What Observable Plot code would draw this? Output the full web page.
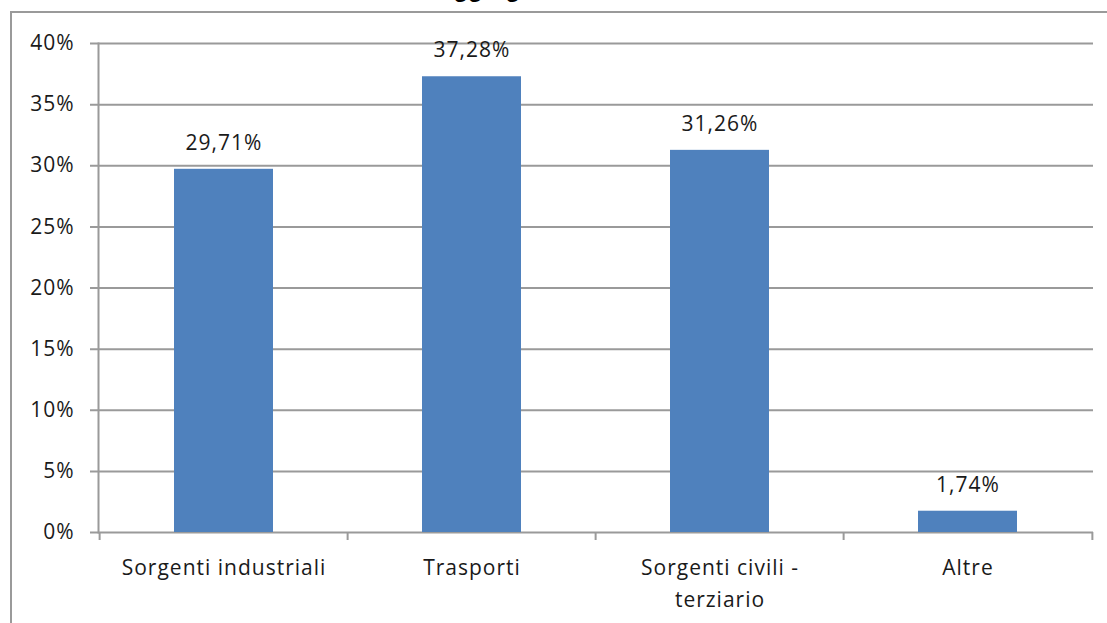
<!DOCTYPE html>
<html>
<head>
<meta charset="utf-8">
<script src="https://cdn.jsdelivr.net/npm/d3@7"></script>
<script src="https://cdn.jsdelivr.net/npm/@observablehq/plot@0.6"></script>
<style>
  html, body { margin: 0; padding: 0; background: #fff; }
  #wrap { position: relative; width: 1107px; height: 623px; overflow: hidden; background: #fff; }
  #title {
    position: absolute; top: -23px; left: 320px;
    font: bold 24px "Liberation Sans", Arial, sans-serif; line-height: 24px;
    color: #000; white-space: nowrap;
  }
  #box {
    position: absolute; left: 10px; top: 11px; right: -10px; bottom: -10px;
    border-top: 2px solid #9a9a9a; border-left: 2px solid #9a9a9a;
  }
  #chart { position: absolute; left: 0; top: 0; }
  #chart svg text { letter-spacing: 1px; }
</style>
</head>
<body>
<div id="wrap">
  <div id="title">Emissioni aggregate</div>
  <div id="box"></div>
  <div id="chart"></div>
</div>
<script>
// Share of emissions by source group (%)
const categories = ["Sorgenti industriali", "Trasporti", "Sorgenti civili - terziario", "Altre"];
const shares = [29.71, 37.28, 31.26, 1.74];
const yTicks = [0, 5, 10, 15, 20, 25, 30, 35, 40];
const categoryLabels = ["Sorgenti industriali", "Trasporti", "Sorgenti civili -\nterziario", "Altre"];

const data = categories.map((c, i) => ({category: c, share: shares[i]}));
const labelOf = new Map(categories.map((c, i) => [c, categoryLabels[i]]));
const fmt = v => v.toFixed(2).replace(".", ",") + "%";

const W = 1107, H = 623;
const mL = 98, mR = 14, mT = 43, mB = 91;
const step = (W - mL - mR) / categories.length;
const grid = "#9a9a9a";
const font = "'Open Sans', Lato, sans-serif";
const fs = 21;

const chart = Plot.plot({
  width: W,
  height: H,
  marginLeft: mL,
  marginRight: mR,
  marginTop: mT,
  marginBottom: mB,
  style: {fontFamily: font, fontSize: fs + "px", color: "#1a1a1a", background: "transparent"},
  x: {domain: categories, paddingInner: 0.6, paddingOuter: 0.3, label: null},
  y: {domain: [0, 40], label: null},
  marks: [
    // horizontal gridlines, extended left to form the tick marks
    Plot.ruleY(yTicks, {stroke: grid, strokeWidth: 2, insetLeft: -8}),
    // vertical axis line
    Plot.frame({anchor: "left", stroke: grid, strokeWidth: 2}),
    // category boundary ticks below the baseline
    Plot.ruleX(categories, {x: d => d, y1: 0, y2: 0, insetBottom: -8, dx: -step / 2, stroke: grid, strokeWidth: 2}),
    Plot.ruleX(categories.slice(-1), {x: d => d, y1: 0, y2: 0, insetBottom: -8, dx: step / 2, stroke: grid, strokeWidth: 2}),
    Plot.barY(data, {x: "category", y: "share", fill: "#4f81bd"}),
    Plot.text(data, {x: "category", y: "share", text: d => fmt(d.share), dy: -26, fontSize: fs, fill: "#1a1a1a"}),
    Plot.axisY({ticks: yTicks, tickSize: 0, tickPadding: 24, tickFormat: d => d + "%", fontSize: fs}),
    Plot.axisX({tickSize: 0, tickPadding: 20, tickFormat: d => labelOf.get(d), lineHeight: 1.52, fontSize: fs})
  ]
});
document.getElementById("chart").appendChild(chart);
</script>
</body>
</html>
